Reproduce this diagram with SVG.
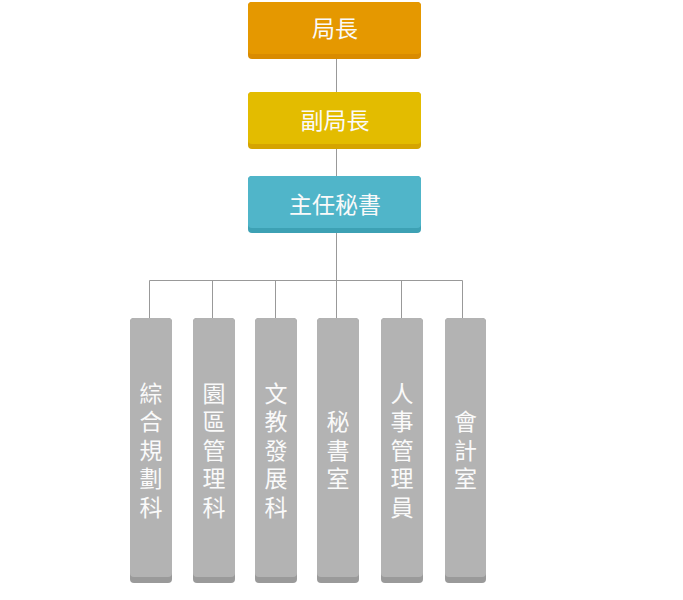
<svg xmlns="http://www.w3.org/2000/svg" width="683" height="600" viewBox="0 0 683 600">
<style>
.lbl{font-family:"Liberation Sans","Noto Sans CJK TC","Noto Sans CJK SC",sans-serif;fill:#fafafa;font-size:23px;text-anchor:middle}
.col{fill:#b3b3b3}
.colb{fill:#9a9a9a}
.conn{stroke:#999;stroke-width:1;fill:none}
</style>
<rect width="683" height="600" fill="#fff"/>
<g id="connectors">
<path class="conn" d="M336.5 59V92M336.5 149V176M336.5 233V280M149.5 318V280.5H462.5V318M212.5 280.5V318M275.5 280.5V318M336.5 280.5V318M401.5 280.5V318"/>
</g>
<g id="n-director">
<rect x="248" y="2" width="173" height="57" rx="4" fill="#d98b00"/>
<rect x="248" y="2" width="173" height="52" rx="4" fill="#e59800"/>
<text class="lbl" x="335" y="36.5">局長</text>
</g>
<g id="n-deputy">
<rect x="248" y="92" width="173" height="57" rx="4" fill="#d5a400"/>
<rect x="248" y="92" width="173" height="52" rx="4" fill="#e3bc00"/>
<text class="lbl" x="335" y="128.5">副局長</text>
</g>
<g id="n-secretary">
<rect x="248" y="176" width="173" height="57" rx="4" fill="#3da1b4"/>
<rect x="248" y="176" width="173" height="52" rx="4" fill="#50b5c9"/>
<text class="lbl" x="335" y="212.5">主任秘書</text>
</g>
<g id="n-planning">
<rect class="colb" x="130" y="318" width="42" height="265" rx="4"/>
<rect class="col" x="130" y="318" width="42" height="259" rx="4"/>
<text class="lbl"><tspan x="151" y="401.5">綜</tspan><tspan x="151" y="430">合</tspan><tspan x="151" y="458.5">規</tspan><tspan x="151" y="487">劃</tspan><tspan x="151" y="515.5">科</tspan></text>
</g>
<g id="n-park">
<rect class="colb" x="193" y="318" width="42" height="265" rx="4"/>
<rect class="col" x="193" y="318" width="42" height="259" rx="4"/>
<text class="lbl"><tspan x="214" y="401.5">園</tspan><tspan x="214" y="430">區</tspan><tspan x="214" y="458.5">管</tspan><tspan x="214" y="487">理</tspan><tspan x="214" y="515.5">科</tspan></text>
</g>
<g id="n-culture">
<rect class="colb" x="255" y="318" width="42" height="265" rx="4"/>
<rect class="col" x="255" y="318" width="42" height="259" rx="4"/>
<text class="lbl"><tspan x="276" y="401.5">文</tspan><tspan x="276" y="430">教</tspan><tspan x="276" y="458.5">發</tspan><tspan x="276" y="487">展</tspan><tspan x="276" y="515.5">科</tspan></text>
</g>
<g id="n-secretariat">
<rect class="colb" x="317" y="318" width="42" height="265" rx="4"/>
<rect class="col" x="317" y="318" width="42" height="259" rx="4"/>
<text class="lbl"><tspan x="338" y="430">秘</tspan><tspan x="338" y="458.5">書</tspan><tspan x="338" y="487">室</tspan></text>
</g>
<g id="n-personnel">
<rect class="colb" x="381" y="318" width="42" height="265" rx="4"/>
<rect class="col" x="381" y="318" width="42" height="259" rx="4"/>
<text class="lbl"><tspan x="402" y="401.5">人</tspan><tspan x="402" y="430">事</tspan><tspan x="402" y="458.5">管</tspan><tspan x="402" y="487">理</tspan><tspan x="402" y="515.5">員</tspan></text>
</g>
<g id="n-accounting">
<rect class="colb" x="445" y="318" width="41" height="265" rx="4"/>
<rect class="col" x="445" y="318" width="41" height="259" rx="4"/>
<text class="lbl"><tspan x="465.5" y="430">會</tspan><tspan x="465.5" y="458.5">計</tspan><tspan x="465.5" y="487">室</tspan></text>
</g>
</svg>
